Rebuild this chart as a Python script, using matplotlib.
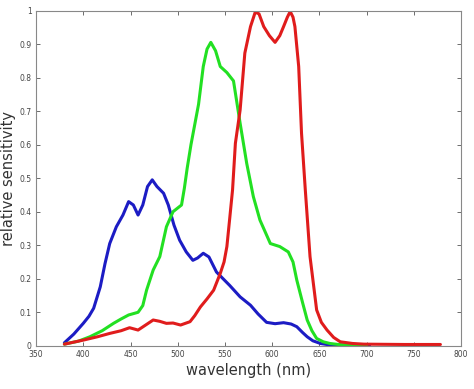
import matplotlib.pyplot as plt
import numpy as np

# Blue cone sensitivity
blue_nm = [380, 390, 400, 406, 411, 418, 423, 428, 435, 442, 448, 453, 458, 463, 468, 473, 478, 485, 490,
           496, 502, 509, 516, 521, 527, 533, 541, 555, 566, 577, 585, 594, 603, 612, 620, 626, 632, 637, 643,
           651, 660, 680, 703]
blue_val = [0.009, 0.035, 0.067, 0.088, 0.112, 0.176, 0.245, 0.305, 0.355, 0.39, 0.43, 0.42, 0.39, 0.42,
            0.475, 0.495, 0.475, 0.455, 0.42, 0.36, 0.315, 0.28, 0.255, 0.262, 0.276, 0.265, 0.22, 0.18,
            0.146, 0.121, 0.095, 0.07, 0.066, 0.069, 0.065, 0.057, 0.04, 0.027, 0.015, 0.007, 0.003, 0.002,
            0.002]

# Green cone sensitivity
green_nm = [380, 395, 407, 420, 432, 440, 448, 458, 463, 467, 474, 481, 488, 495, 504, 507, 510, 514, 518,
            522, 527, 531, 535, 540, 545, 552, 559, 566, 573, 580, 587, 598, 608, 617, 622, 626, 632, 637, 642,
            647, 654, 661, 670, 680, 700]
green_val = [0.005, 0.014, 0.027, 0.045, 0.067, 0.08, 0.092, 0.1, 0.12, 0.166, 0.226, 0.266, 0.355, 0.4,
             0.42, 0.47, 0.53, 0.6, 0.66, 0.72, 0.833, 0.885, 0.905, 0.88, 0.833, 0.815, 0.79, 0.664, 0.544,
             0.445, 0.375, 0.305, 0.296, 0.28, 0.25, 0.196, 0.13, 0.077, 0.045, 0.022, 0.012, 0.007, 0.004,
             0.002, 0.002]

# Red cone sensitivity
red_nm = [380, 390, 400, 415, 428, 440, 449, 458, 466, 474, 481, 488, 495, 503, 513, 518, 524, 531, 538,
          545, 549, 552, 555, 558, 561, 566, 571, 577, 582, 586, 591, 597, 603, 608, 612, 616, 619, 622, 624,
          628, 631, 635, 640, 647, 652, 658, 665, 672, 685, 697, 740, 778]
red_val = [0.005, 0.011, 0.017, 0.027, 0.037, 0.045, 0.054, 0.047, 0.062, 0.077, 0.073, 0.067, 0.068, 0.062,
           0.072, 0.09, 0.116, 0.14, 0.166, 0.216, 0.25, 0.296, 0.38, 0.465, 0.604, 0.703, 0.873, 0.952,
           0.995, 0.99, 0.952, 0.925, 0.905, 0.925, 0.952, 0.98, 0.997, 0.98, 0.952, 0.833, 0.634, 0.465,
           0.266, 0.107, 0.07, 0.047, 0.025, 0.012, 0.007, 0.005, 0.004, 0.004]

x_ticks = [350, 400, 450, 500, 550, 600, 650, 700, 750, 800]
y_ticks = [0, 0.1, 0.2, 0.3, 0.4, 0.5, 0.6, 0.7, 0.8, 0.9, 1]
y_tick_labels = ['0', '0.1', '0.2', '0.3', '0.4', '0.5', '0.6', '0.7', '0.8', '0.9', '1']

fig = plt.figure(figsize=(4.74, 3.89), dpi=100)
ax = fig.add_axes([0.076, 0.111, 0.897, 0.862])

# draw the three cone curves
for nm, val, col in [(blue_nm, blue_val, '#1c1cc4'),
                     (green_nm, green_val, '#22e022'),
                     (red_nm, red_val, '#e01c1c')]:
    ax.plot(nm, val, color=col, linewidth=2.2, solid_capstyle='round', solid_joinstyle='round')

ax.set_xlim(350, 800)
ax.set_ylim(0, 1)
ax.set_xticks(x_ticks)
ax.set_yticks(y_ticks)
ax.set_yticklabels(y_tick_labels)
ax.tick_params(direction='in', length=3, width=0.6, labelsize=5.5, labelcolor='#444444',
               color='#555555', top=True, right=True, pad=3)
for s in ax.spines.values():
    s.set_color('#888888')
    s.set_linewidth(0.8)

ax.set_xlabel('wavelength (nm)', fontsize=10.5, color='#333333', labelpad=3)
ax.set_ylabel('relative sensitivity', fontsize=10.5, color='#333333', labelpad=3)

fig.savefig('out.png', dpi=100)
